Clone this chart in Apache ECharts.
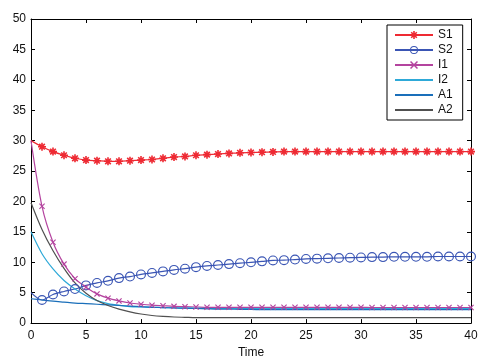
<!DOCTYPE html>
<html>
<head>
<meta charset="utf-8">
<script src="https://cdn.jsdelivr.net/npm/echarts@6/dist/echarts.min.js"></script>
<style>
html,body{margin:0;padding:0;background:#fff;}
#chart{width:489px;height:364px;}
</style>
</head>
<body>
<div id="chart"></div>
<script>
var time = [0,1,2,3,4,5,6,7,8,9,10,11,12,13,14,15,16,17,18,19,20,21,22,23,24,25,26,27,28,29,30,31,32,33,34,35,36,37,38,39,40];
var S1 = [30.0,29.0,28.2,27.6,27.1,26.8,26.7,26.6,26.6,26.7,26.8,26.9,27.1,27.3,27.4,27.6,27.7,27.8,27.9,28.0,28.05,28.1,28.15,28.2,28.2,28.2,28.2,28.2,28.2,28.2,28.2,28.2,28.2,28.2,28.2,28.2,28.2,28.2,28.2,28.2,28.2];
var S2 = [5.0,3.8,4.7,5.2,5.6,6.2,6.6,6.95,7.4,7.65,8.0,8.25,8.5,8.75,8.95,9.2,9.4,9.55,9.7,9.85,10.0,10.15,10.3,10.35,10.45,10.55,10.6,10.65,10.7,10.75,10.8,10.85,10.85,10.9,10.9,10.9,10.9,10.95,10.95,10.95,10.95];
var I1 = [30.0,19.2,13.3,9.7,7.3,5.9,4.8,4.1,3.65,3.3,3.1,2.95,2.85,2.75,2.7,2.65,2.6,2.6,2.6,2.6,2.6,2.6,2.6,2.6,2.6,2.6,2.6,2.6,2.6,2.6,2.6,2.55,2.55,2.55,2.55,2.55,2.55,2.55,2.55,2.55,2.55];
var I2 = [15.0,11.4,8.9,7.0,5.6,4.5,3.7,3.2,2.9,2.7,2.65,2.6,2.55,2.5,2.45,2.45,2.4,2.4,2.4,2.4,2.4,2.4,2.4,2.4,2.4,2.4,2.4,2.4,2.4,2.4,2.4,2.4,2.4,2.4,2.4,2.4,2.4,2.4,2.4,2.4,2.4];
var A1 = [4.0,3.8,3.6,3.45,3.3,3.2,3.1,3.0,2.9,2.8,2.7,2.6,2.55,2.5,2.45,2.4,2.35,2.3,2.3,2.25,2.25,2.2,2.2,2.2,2.2,2.2,2.2,2.2,2.2,2.2,2.2,2.2,2.2,2.2,2.2,2.2,2.2,2.2,2.2,2.2,2.2];
var A2 = [19.8,15.4,11.9,9.0,6.6,4.9,3.7,2.9,2.3,1.85,1.5,1.25,1.1,1.0,0.95,0.9,0.9,0.9,0.9,0.9,0.9,0.9,0.9,0.9,0.9,0.9,0.9,0.9,0.9,0.9,0.9,0.9,0.9,0.9,0.9,0.9,0.9,0.9,0.9,0.9,0.9];
var xTicks = [0,5,10,15,20,25,30,35,40];
var yTicks = [0,5,10,15,20,25,30,35,40,45,50];

var FONT = 'Liberation Sans, Arial, sans-serif';
var asterisk = 'path://M-1,-5L1,-5L1,5L-1,5Z M-5,-1L5,-1L5,1L-5,1Z M-2.8,-4.2L4.2,2.8L2.8,4.2L-4.2,-2.8Z M2.8,-4.2L4.2,-2.8L-2.8,4.2L-4.2,2.8Z';
var cross = 'path://M-3.4,-4.6L4.6,3.4L3.4,4.6L-4.6,-3.4Z M3.4,-4.6L4.6,-3.4L-3.4,4.6L-4.6,3.4Z';
var ring = 'path://M0,-5A5,5,0,1,1,0,5A5,5,0,1,1,0,-5Z M0,-3.85A3.85,3.85,0,1,0,0,3.85A3.85,3.85,0,1,0,0,-3.85Z';

function pairs(vals, hideFirst) {
  return time.map(function (t, i) {
    var d = { value: [t, vals[i]] };
    if (hideFirst && i === 0) d.symbol = 'none';
    return d;
  });
}

function ser(name, vals, color, symbol, size, markers) {
  return {
    name: name, type: 'line', data: pairs(vals, markers), smooth: 0.3,
    lineStyle: { color: color, width: 1.2 },
    itemStyle: { color: color },
    symbol: markers ? symbol : 'none',
    showSymbol: !!markers,
    symbolSize: size,
    z: 3
  };
}

var chart = echarts.init(document.getElementById('chart'), null, { renderer: 'canvas' });
var axisBase = {
  type: 'value',
  axisLine: { show: true, onZero: false, lineStyle: { color: '#000', width: 1 } },
  axisTick: { show: true, inside: true, length: 4, lineStyle: { color: '#000' } },
  splitLine: { show: false }
};
var hiddenMark = { opacity: 0 };
chart.setOption({
  animation: false,
  backgroundColor: '#fff',
  textStyle: { fontFamily: FONT },
  grid: { left: 31, right: 18, top: 19, bottom: 38 },
  legend: {
    orient: 'vertical',
    left: 387, top: 25,
    padding: [4, 10, 4, 7],
    itemGap: 3,
    itemWidth: 38, itemHeight: 10,
    backgroundColor: '#fff',
    borderColor: '#000', borderWidth: 1,
    textStyle: { fontFamily: FONT, fontSize: 12, color: '#111', lineHeight: 12 },
    data: [
      { name: 'S1' },
      { name: 'S2' },
      { name: 'I1' },
      { name: 'I2', itemStyle: hiddenMark },
      { name: 'A1', itemStyle: hiddenMark },
      { name: 'A2', itemStyle: hiddenMark }
    ]
  },
  xAxis: [
    Object.assign({}, axisBase, {
      min: 0, max: 40, interval: 5, position: 'bottom',
      axisLabel: { fontSize: 12, color: '#111', margin: 7, fontFamily: FONT,
        formatter: function (v) { return xTicks.indexOf(v) >= 0 ? String(v) : ''; } },
      name: 'Time', nameLocation: 'middle', nameGap: 19,
      nameTextStyle: { fontSize: 12, color: '#111', fontFamily: FONT }
    }),
    Object.assign({}, axisBase, {
      min: 0, max: 40, interval: 5, position: 'top',
      axisLabel: { show: false }
    })
  ],
  yAxis: [
    Object.assign({}, axisBase, {
      min: 0, max: 50, interval: 5, position: 'left',
      axisLabel: { fontSize: 12, color: '#111', margin: 5, fontFamily: FONT,
        formatter: function (v) { return yTicks.indexOf(v) >= 0 ? String(v) : ''; } }
    }),
    Object.assign({}, axisBase, {
      min: 0, max: 50, interval: 5, position: 'right',
      axisLabel: { show: false }
    })
  ],
  series: [
    ser('S1', S1, '#ee2a33', asterisk, 8, true),
    ser('S2', S2, '#3a55b4', ring, 10, true),
    ser('I1', I1, '#b4449f', cross, 6, true),
    ser('I2', I2, '#2ea9d8', 'none', 0, false),
    ser('A1', A1, '#1a6fba', 'none', 0, false),
    ser('A2', A2, '#505050', 'none', 0, false)
  ]
});
</script>
</body>
</html>
